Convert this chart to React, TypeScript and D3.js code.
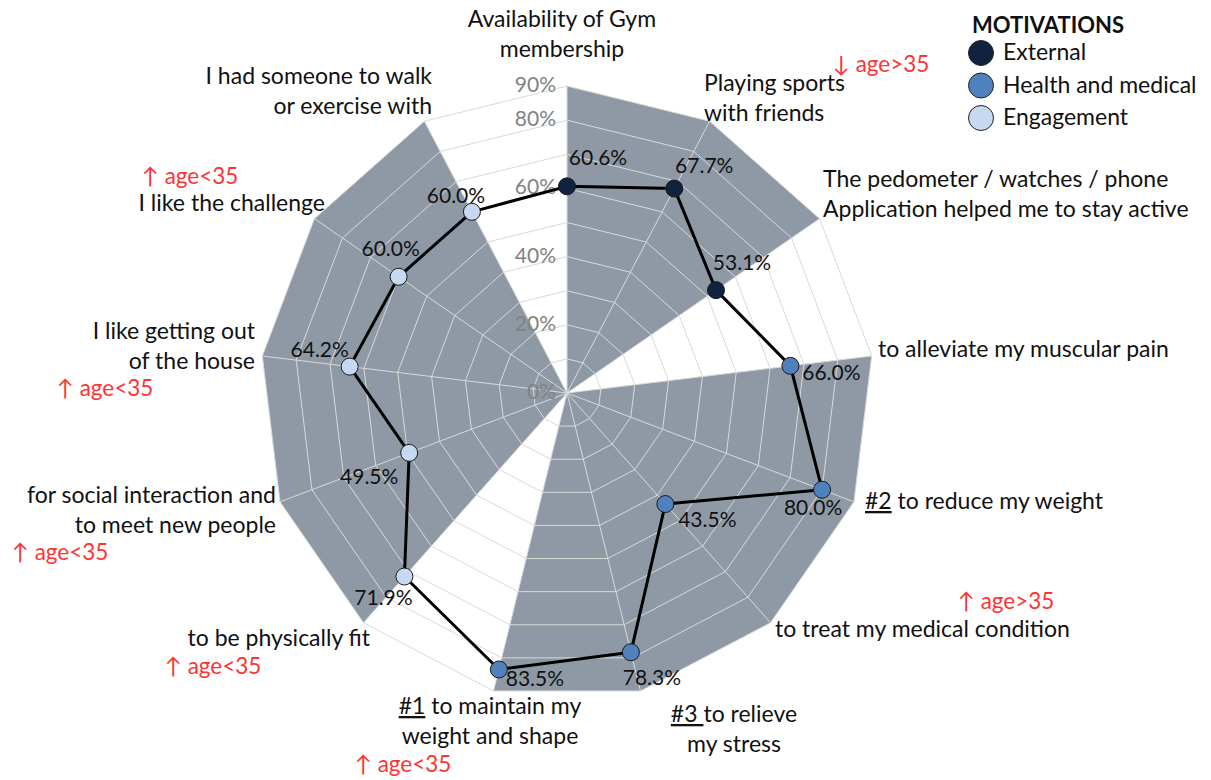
import * as d3 from "d3";

// chart values
const categories: string[][] = [
  ["Availability of Gym", "membership"],
  ["Playing sports", "with friends"],
  ["The pedometer / watches / phone", "Application helped me to stay active"],
  ["to alleviate my muscular pain"],
  ["to reduce my weight"],
  ["to treat my medical condition"],
  ["to relieve", "my stress"],
  ["to maintain my", "weight and shape"],
  ["to be physically fit"],
  ["for social interaction and", "to meet new people"],
  ["I like getting out", "of the house"],
  ["I like the challenge"],
  ["I had someone to walk", "or exercise with"],
];
const ranks: (string | null)[] = [null, null, null, null, "#2", null, "#3 ", "#1", null, null, null, null, null];
const values = [0.606, 0.677, 0.531, 0.66, 0.8, 0.435, 0.783, 0.835, 0.719, 0.495, 0.642, 0.6, 0.6];
const groups = [
  "External", "External", "External",
  "Health and medical", "Health and medical", "Health and medical", "Health and medical", "Health and medical",
  "Engagement", "Engagement", "Engagement", "Engagement", "Engagement",
];
const ageNotes: (string | null)[] = [
  null, "↓ age>35", null, null, null, "↑ age>35", null,
  "↑ age<35", "↑ age<35", "↑ age<35", "↑ age<35", "↑ age<35", null,
];
const legendItems = ["External", "Health and medical", "Engagement"];
const ringValues = [0.1, 0.2, 0.3, 0.4, 0.5, 0.6, 0.7, 0.8, 0.9];
const tickValues = [0, 0.2, 0.4, 0.6, 0.8, 0.9];

// layout
const W = 1211;
const H = 780;
const cx = 567;
const cy = 393;
const FONT = "Lato, 'Open Sans', sans-serif";
const groupColors: Record<string, string> = {
  "External": "#0f2340",
  "Health and medical": "#4f81bd",
  "Engagement": "#c6d9f0",
};
// data label offsets from the marker (text centre, baseline)
const valueLabelOffsets = [
  [31, -21], [30, -16], [26, -20], [41, 14], [-9, 25], [42, 23], [21, 33],
  [36, 17], [-21, 28], [-40, 31], [-30, -10], [-8, -21], [-16, -9],
];
const categoryLayout: { x: number; y: number; anchor: string }[] = [
  { x: 562, y: 27, anchor: "middle" },
  { x: 704, y: 91, anchor: "start" },
  { x: 823, y: 187, anchor: "start" },
  { x: 878, y: 357, anchor: "start" },
  { x: 865, y: 509, anchor: "start" },
  { x: 775, y: 637, anchor: "start" },
  { x: 734, y: 722, anchor: "middle" },
  { x: 490, y: 714, anchor: "middle" },
  { x: 370, y: 646, anchor: "end" },
  { x: 276, y: 503, anchor: "end" },
  { x: 255, y: 339, anchor: "end" },
  { x: 325, y: 211, anchor: "end" },
  { x: 432, y: 84, anchor: "end" },
];
const noteLayout: ({ x: number; y: number } | null)[] = [
  null, { x: 833, y: 72 }, null, null, null, { x: 958, y: 609 }, null,
  { x: 355, y: 772 }, { x: 165, y: 674 }, { x: 12, y: 560 }, { x: 57, y: 396 }, { x: 142, y: 184 }, null,
];

export default function App() {
  const n = categories.length;
  const r = d3.scaleLinear().domain([0, 1]).range([0, 341]);
  const angle = d3.scaleLinear().domain([0, n]).range([0, 2 * Math.PI]);
  const maxV = d3.max(ringValues) as number;

  const pt = (i: number, v: number) => {
    const [x, y] = d3.pointRadial(angle(i), r(v));
    return [x, y];
  };

  const ring = (v: number) =>
    d3.lineRadial<number>()
      .angle((d) => angle(d))
      .radius(() => r(v))
      .curve(d3.curveLinearClosed)(d3.range(n)) as string;

  const dataLine = d3.lineRadial<number>()
    .angle((_, i) => angle(i))
    .radius((d) => r(d))
    .curve(d3.curveLinearClosed)(values) as string;

  // gray background: one polygon per motivation group
  const groupPaths = legendItems.map((g) => {
    const idx = d3.range(n).filter((i) => groups[i] === g);
    const pts = [[0, 0], ...idx.map((i) => pt(i, maxV))];
    return d3.line()(pts as [number, number][]) + "Z";
  });

  return (
    <svg width={W} height={H} style={{ position: "absolute", left: 0, top: 0, background: "#fff" }}
      fontFamily={FONT}>
      <g transform={`translate(${cx},${cy})`}>
        {groupPaths.map((d, i) => (
          <path key={i} d={d} fill="#8e99a5" />
        ))}
        {ringValues.map((v) => (
          <path key={v} d={ring(v)} fill="none" stroke="#d9d9d9" strokeWidth={1} />
        ))}
        {d3.range(n).map((i) => {
          const [x, y] = pt(i, maxV);
          return <line key={i} x1={0} y1={0} x2={x} y2={y} stroke="#d9d9d9" strokeWidth={1} />;
        })}
        {tickValues.map((v) => (
          <text key={v} x={-11} y={-r(v) + 6} textAnchor="end" fontSize={21} fill="#828282">
            {d3.format(".0%")(v)}
          </text>
        ))}
        <path d={dataLine} fill="none" stroke="#000" strokeWidth={3} strokeLinejoin="round" />
        {values.map((v, i) => {
          const [x, y] = pt(i, v);
          return <circle key={i} cx={x} cy={y} r={8.5} fill={groupColors[groups[i]]} stroke="#1a1a1a" strokeWidth={1} />;
        })}
        {values.map((v, i) => {
          const [x, y] = pt(i, v);
          const [dx, dy] = valueLabelOffsets[i];
          return (
            <text key={i} x={x + dx} y={y + dy} textAnchor="middle" fontSize={21} fill="#111">
              {d3.format(".1%")(v)}
            </text>
          );
        })}
      </g>

      {categories.map((lines, i) => {
        const L = categoryLayout[i];
        return (
          <text key={i} x={L.x} y={L.y} textAnchor={L.anchor} fontSize={23} fill="#111">
            {lines.map((line, j) => (
              <tspan key={j} x={L.x} dy={j === 0 ? 0 : 30}>
                {j === 0 && ranks[i] ? (
                  <tspan textDecoration="underline">{ranks[i]}</tspan>
                ) : null}
                {j === 0 && ranks[i] && !ranks[i]!.endsWith(" ") ? " " : ""}
                {line}
              </tspan>
            ))}
          </text>
        );
      })}

      {ageNotes.map((note, i) => {
        const L = noteLayout[i];
        if (!note || !L) return null;
        return (
          <text key={i} x={L.x} y={L.y} fontSize={22.5} fill="#ff3333">{note}</text>
        );
      })}

      <g>
        <text x={972} y={33} fontSize={22} fontWeight="bold" fill="#111">MOTIVATIONS</text>
        {legendItems.map((g, i) => (
          <g key={g}>
            <circle cx={981} cy={53 + i * 32.5} r={12.5} fill={groupColors[g]} stroke="#222" strokeWidth={1} />
            <text x={1003} y={60 + i * 32.5} fontSize={23} fill="#111">{g}</text>
          </g>
        ))}
      </g>
    </svg>
  );
}
